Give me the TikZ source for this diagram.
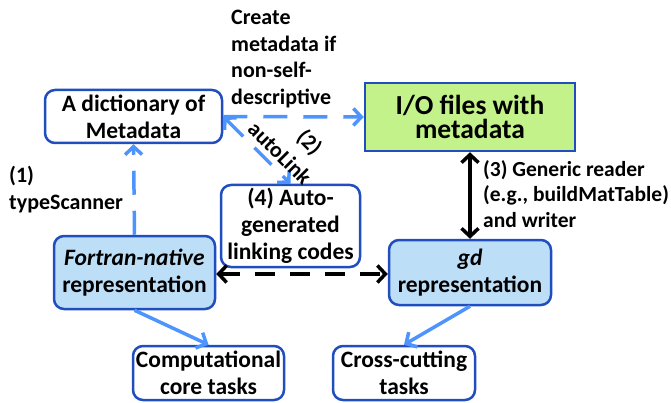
\documentclass[tikz,border=0pt]{standalone}
\usepackage{fontspec}
\setmainfont{Carlito}
\usetikzlibrary{arrows.meta}
\definecolor{boxblue}{RGB}{32,78,190}
\definecolor{lblue}{RGB}{77,148,255}
\definecolor{fillblue}{RGB}{189,222,247}
\definecolor{fillgreen}{RGB}{195,242,138}
\tikzset{
  txt/.style={font=\fontsize{22}{26.5}\selectfont\bfseries},
  boxtxt/.style={font=\fontsize{23.5}{27}\selectfont\bfseries},
  rbox/.style={boxtxt, draw=boxblue, line width=2.5pt, rounded corners=10pt, align=center, inner sep=0pt},
  bluefill/.style={fill=fillblue},
  bluedash/.style={draw=lblue, line width=3.5pt, dash pattern=on 24pt off 16pt, -{Straight Barb[length=8pt,width=17pt]}},
  bluesolid/.style={draw=lblue, line width=3.5pt, -{Straight Barb[length=8pt,width=17pt]}},
  blacksolid/.style={draw=black, line width=3.5pt, {Straight Barb[length=8pt,width=17pt]}-{Straight Barb[length=8pt,width=17pt]}},
  lbl/.style={txt, align=left, inner sep=0pt, anchor=north west},
}
\begin{document}
\begin{tikzpicture}[x=1pt,y=-1pt]
\useasboundingbox (0,0) rectangle (671,403);
\node[rbox, minimum width=177pt, minimum height=53pt] (dict) at (133.5,116.5) {A dictionary of\\Metadata};
\node[draw=boxblue, line width=2.5pt, fill=fillgreen, align=center, inner sep=0pt, minimum width=210pt, minimum height=68pt,
      font=\fontsize{27.5}{24}\selectfont\bfseries] (io) at (470,117) {I/O files with\\metadata};
\node[rbox, minimum width=139pt, minimum height=82pt] (auto) at (290.5,226) {(4) Auto-\\generated\\linking codes};
\node[rbox, bluefill, minimum width=161pt, minimum height=73pt] (fort) at (134.5,272.5) {\textit{Fortran-native}\\representation};
\node[rbox, bluefill, minimum width=162pt, minimum height=65pt] (gd) at (470,272.5) {\textit{gd}\\representation};
\node[rbox, minimum width=151pt, minimum height=54pt] (comp) at (208.5,373) {Computational\\core tasks};
\node[rbox, minimum width=142pt, minimum height=54pt] (cross) at (404,373) {Cross-cutting\\tasks};

\draw[bluedash] (fort.north) -- (dict.south);
\draw[bluedash] (dict.east) -- (io.west);
\draw[bluedash, {Straight Barb[length=8pt,width=17pt]}-{Straight Barb[length=8pt,width=17pt]}] (dict.east) -- (auto.north);
\draw[blacksolid] (io.south) -- (gd.north);
\draw[blacksolid, dash pattern=on 20pt off 15pt] (fort.east |- 0,274) -- (gd.west |- 0,274);
\draw[bluesolid] (fort.south) -- (comp.north);
\draw[bluesolid] (gd.south) -- (cross.north);

\node[lbl] (create) at (231,10) {Create\\metadata if\\non-self-\\descriptive};
\node[lbl] (ts) at (9,166) {(1)\\typeScanner};
\node[lbl, font=\fontsize{21.5}{25.5}\selectfont\bfseries] (gen) at (483,160) {(3) Generic reader\\(e.g., buildMatTable)\\and writer};
\node[txt, rotate=-45, inner sep=0pt] (al) at (280,153) {autoLink};
\node[txt, rotate=-45, inner sep=0pt] (two) at (309,143) {(2)};
\end{tikzpicture}
\end{document}
